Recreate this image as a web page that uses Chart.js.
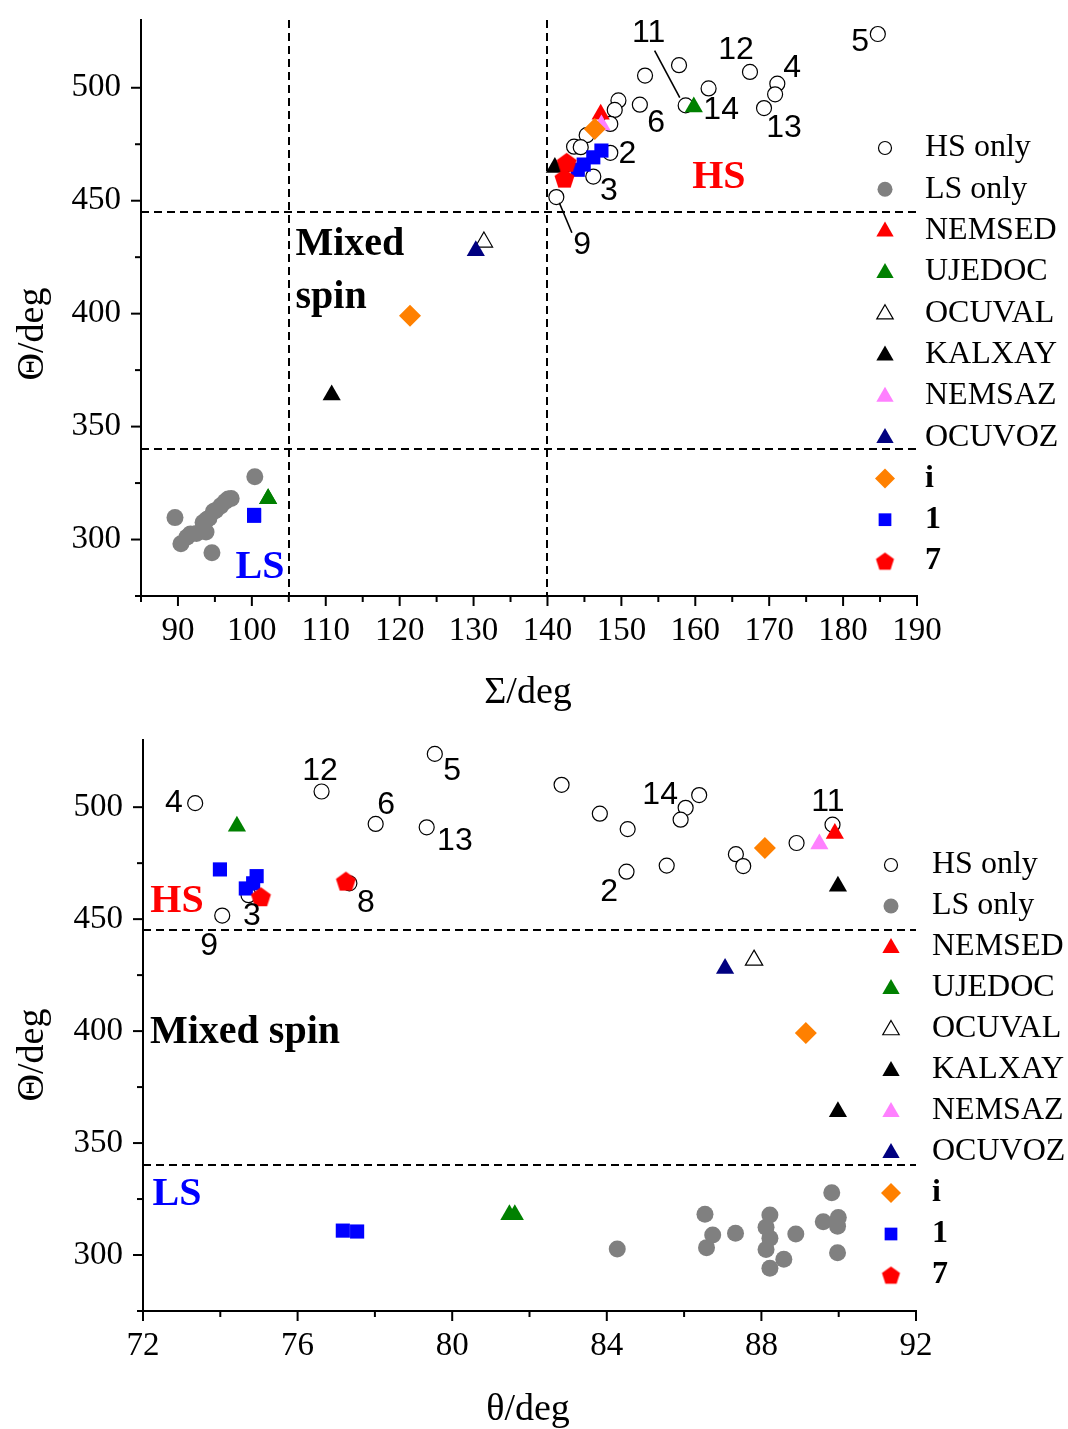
<!DOCTYPE html>
<html><head><meta charset="utf-8">
<script src="https://cdn.jsdelivr.net/npm/chart.js@4.4.1/dist/chart.umd.min.js"></script>
<style>body{margin:0;background:#fff}canvas{display:block}</style>
</head><body>
<canvas id="topChart" width="1068" height="715"></canvas>
<canvas id="bottomChart" width="1068" height="714"></canvas>
<script>
// ---------------- DATA ----------------
// Σ (deg), θ (deg), Θ (deg) for each series
const seriesNames = ['HS only','LS only','NEMSED','UJEDOC','OCUVAL','KALXAY','NEMSAZ','OCUVOZ','i','1','7'];

const hsSigma    = [184.7,157.8,167.4,153.2,171.1,161.8,170.8,149.6,152.5,158.7,169.3,149.1,148.5,145.3,143.6,144.5,148.5,142.5,146.2,141.2];
const hsTheta    = [79.55,82.83,76.62,86.39,73.35,86.04,83.82,85.91,78.02,89.84,79.34,84.54,88.91,87.34,85.55,87.53,84.51,77.34,74.73,74.05];
const hsBigTheta = [523.8,510.0,507.0,505.4,501.8,499.7,497.1,494.4,492.5,492.2,491.0,490.2,484.0,479.0,473.9,473.7,471.2,466.0,460.7,451.6];

const lsSigma    = [92.5,97.2,93.9,93.8,89.6,96.8,94.8,93.4,91.7,90.4,94.6,94.2,100.4,95.8,96.4,95.1,91.2];
const lsTheta    = [84.27,86.54,86.74,86.58,87.33,88.22,88.12,88.22,88.12,88.58,88.22,88.89,89.82,89.60,89.99,89.97,89.97];
const lsBigTheta = [302.7,318.2,308.9,303.3,309.7,317.9,312.4,307.5,302.5,298.1,294.1,309.4,327.8,314.9,316.8,312.9,301.0];

const nemsedSigma = [147.2],  nemsedTheta = [89.9],  nemsedBigTheta = [488.3];
const ujedocSigma = [159.8,102.2,102.2], ujedocTheta = [74.43,81.48,81.62], ujedocBigTheta = [491.5,318.0,318.0];
const ocuvalSigma = [131.4],  ocuvalTheta = [87.81], ocuvalBigTheta = [431.7];
const kalxaySigma = [141.0,110.8], kalxayTheta = [89.98,89.98], kalxayBigTheta = [464.7,364.0];
const nemsazSigma = [147.3],  nemsazTheta = [89.5],  nemsazBigTheta = [483.5];
const ocuvozSigma = [130.3],  ocuvozTheta = [87.06], ocuvozBigTheta = [427.9];
const iSigma = [146.4,121.4], iTheta = [88.09,89.15], iBigTheta = [481.8,399.1];
const c1Sigma = [147.3,146.2,144.9,144.1,100.3,100.3];
const c1Theta = [73.99,74.94,74.85,74.66,77.17,77.54];
const c1BigTheta = [472.2,469.2,466.0,463.7,310.9,310.5];
const c7Sigma = [142.6,142.3], c7Theta = [77.25,75.05], c7BigTheta = [467.0,460.0];

const sigmaThresholds = [105, 140];
const bigThetaThresholds = [340, 445];

const sigmaTickLabels = [90,100,110,120,130,140,150,160,170,180,190];
const thetaTickLabels = [72,76,80,84,88,92];
const bigThetaTickLabels = [300,350,400,450,500];

// labels of individual compounds: [text, Σ, Θ] and [text, θ, Θ]
const topNumberLabels = [['11',153.7,524.3],['12',165.5,516.8],['4',173.1,508.8],['5',182.3,520.4],['14',163.5,490.3],
  ['6',154.7,484.5],['13',172.0,481.9],['2',150.8,470.8],['3',148.3,454.0],['9',144.7,430.5]];
const bottomNumberLabels = [['4',72.80,501.8],['12',76.58,516.1],['5',80.0,516.1],['6',78.29,500.9],['13',80.07,484.8],
  ['8',77.77,457.1],['3',74.82,451.3],['9',73.71,437.9],['2',84.06,462.1],['14',85.38,505.4],['11',89.72,502.2]];

// ---------------- STYLES ----------------
function makePentagon(r, color){
  const c = document.createElement('canvas');
  const s = Math.ceil(2*r+2); c.width = s; c.height = s;
  const g = c.getContext('2d'); g.fillStyle = color; g.beginPath();
  for (let k=0;k<5;k++){ const a = -Math.PI/2 + k*2*Math.PI/5; const px = s/2 + r*Math.cos(a), py = s/2 + 1 + r*Math.sin(a); k?g.lineTo(px,py):g.moveTo(px,py); }
  g.closePath(); g.fill(); return c;
}
const pentPlot = makePentagon(10.5, '#ff0000');
const pentLegend = makePentagon(9.5, '#ff0000');

const styles = {
  'HS only': {ps:'circle', r:7.5, lr:6.5, fill:'#ffffff', stroke:'#000000', bw:1.2},
  'LS only': {ps:'circle', r:8.5, lr:7.5, fill:'#808080', stroke:'#808080', bw:0},
  'NEMSED':  {ps:'triangle', r:10.5, lr:10, fill:'#ff0000', stroke:'#ff0000', bw:0},
  'UJEDOC':  {ps:'triangle', r:10.5, lr:10, fill:'#008000', stroke:'#008000', bw:0},
  'OCUVAL':  {ps:'triangle', r:10, lr:9.5, fill:'#ffffff', stroke:'#000000', bw:1.2},
  'KALXAY':  {ps:'triangle', r:10.5, lr:10, fill:'#000000', stroke:'#000000', bw:0},
  'NEMSAZ':  {ps:'triangle', r:10.5, lr:10, fill:'#ff80ff', stroke:'#ff80ff', bw:0},
  'OCUVOZ':  {ps:'triangle', r:10.5, lr:10, fill:'#000080', stroke:'#000080', bw:0},
  'i':       {ps:'rectRot', r:11, lr:10, fill:'#ff8000', stroke:'#ff8000', bw:0},
  '1':       {ps:'rect', r:10, lr:9, fill:'#0000ff', stroke:'#0000ff', bw:0},
  '7':       {ps:pentPlot, lps:pentLegend, r:10, lr:10, fill:'#ff0000', stroke:'#ff0000', bw:0}
};

const seriesData = {
  'HS only': [hsSigma, hsTheta, hsBigTheta],
  'LS only': [lsSigma, lsTheta, lsBigTheta],
  'NEMSED': [nemsedSigma, nemsedTheta, nemsedBigTheta],
  'UJEDOC': [ujedocSigma, ujedocTheta, ujedocBigTheta],
  'OCUVAL': [ocuvalSigma, ocuvalTheta, ocuvalBigTheta],
  'KALXAY': [kalxaySigma, kalxayTheta, kalxayBigTheta],
  'NEMSAZ': [nemsazSigma, nemsazTheta, nemsazBigTheta],
  'OCUVOZ': [ocuvozSigma, ocuvozTheta, ocuvozBigTheta],
  'i': [iSigma, iTheta, iBigTheta],
  '1': [c1Sigma, c1Theta, c1BigTheta],
  '7': [c7Sigma, c7Theta, c7BigTheta]
};

const SERIF = '"Liberation Serif", "Times New Roman", serif';
const SANS = '"Liberation Sans", Arial, sans-serif';

// ---------------- PLUGIN ----------------
const decor = {
  id: 'decor',
  beforeDatasetsDraw(chart, args, o) {
    const ctx = chart.ctx, xs = chart.scales.x, ys = chart.scales.y, a = chart.chartArea;
    ctx.save(); ctx.strokeStyle = '#000'; ctx.lineWidth = 2; ctx.setLineDash([8,5]);
    (o.vLines||[]).forEach(v => { const px = Math.round(xs.getPixelForValue(v)); ctx.beginPath(); ctx.moveTo(px, a.top); ctx.lineTo(px, a.bottom); ctx.stroke(); });
    (o.hLines||[]).forEach(v => { const py = Math.round(ys.getPixelForValue(v)); ctx.beginPath(); ctx.moveTo(a.left, py); ctx.lineTo(a.right, py); ctx.stroke(); });
    ctx.restore();
  },
  afterDraw(chart, args, o) {
    const ctx = chart.ctx, xs = chart.scales.x, ys = chart.scales.y, a = chart.chartArea;
    ctx.save();
    // tick marks
    ctx.strokeStyle = '#000'; ctx.lineWidth = 2; ctx.setLineDash([]);
    const isMult = (v, s) => Math.abs(v/s - Math.round(v/s)) < 1e-6;
    xs.ticks.forEach(t => { if (!isMult(t.value, o.xMinor)) return; const px = xs.getPixelForValue(t.value); const len = isMult(t.value, o.xMajor) ? 10 : 6;
      ctx.beginPath(); ctx.moveTo(px, a.bottom); ctx.lineTo(px, a.bottom + len); ctx.stroke(); });
    ys.ticks.forEach(t => { if (!isMult(t.value, o.yMinor)) return; const py = ys.getPixelForValue(t.value); const len = isMult(t.value, o.yMajor) ? 10 : 6;
      ctx.beginPath(); ctx.moveTo(a.left, py); ctx.lineTo(a.left - len, py); ctx.stroke(); });
    // leader lines
    ctx.lineWidth = 1.6;
    (o.leaders||[]).forEach(l => { ctx.beginPath(); ctx.moveTo(xs.getPixelForValue(l[0]), ys.getPixelForValue(l[1])); ctx.lineTo(xs.getPixelForValue(l[2]), ys.getPixelForValue(l[3])); ctx.stroke(); });
    // number labels
    ctx.fillStyle = '#000'; ctx.font = '32px ' + SANS; ctx.textAlign = 'center'; ctx.textBaseline = 'middle';
    (o.numbers||[]).forEach(n => ctx.fillText(n[0], xs.getPixelForValue(n[1]), ys.getPixelForValue(n[2])));
    // region labels
    ctx.font = 'bold 40px ' + SERIF;
    (o.regions||[]).forEach(r => { ctx.fillStyle = r.color; ctx.textAlign = r.align; ctx.fillText(r.text, xs.getPixelForValue(r.x), ys.getPixelForValue(r.y)); });
    // axis titles
    ctx.fillStyle = '#000'; ctx.font = '38px ' + SERIF; ctx.textAlign = 'center'; ctx.textBaseline = 'middle';
    ctx.fillText(o.xTitle, o.xTitlePos[0], o.xTitlePos[1]);
    ctx.save(); ctx.translate(o.yTitlePos[0], o.yTitlePos[1]); ctx.rotate(-Math.PI/2); ctx.fillText('\u0398/deg', 0, 0); ctx.restore();
    // legend
    ctx.textAlign = 'left';
    seriesNames.forEach((name, i) => {
      const st = styles[name]; const y = o.legendY + i * o.legendStep;
      ctx.fillStyle = st.fill; ctx.strokeStyle = st.stroke; ctx.lineWidth = st.bw || 0.01;
      Chart.helpers.drawPoint(ctx, {pointStyle: st.lps || st.ps, radius: st.lr, rotation: 0, borderWidth: st.bw}, o.legendX, y + (st.ps === 'triangle' ? 1 : 0));
      ctx.fillStyle = '#000';
      ctx.font = (i >= 8 ? 'bold ' : '') + '32px ' + SERIF;
      ctx.fillText(name, o.legendTextX, y);
    });
    ctx.restore();
  }
};

function buildDatasets(idx) {
  return seriesNames.map((name, k) => {
    const d = seriesData[name], st = styles[name];
    return {
      label: name,
      data: d[idx].map((xv, j) => ({x: xv, y: d[2][j]})),
      pointStyle: st.ps, pointRadius: st.r, pointHoverRadius: st.r,
      backgroundColor: st.fill, borderColor: st.stroke, borderWidth: st.bw,
      showLine: false, order: seriesNames.length - k
    };
  });
}

function zeroPad(s) { s.paddingTop = 0; s.paddingBottom = 0; s.paddingLeft = 0; s.paddingRight = 0; }

function makeChart(id, cfg) {
  return new Chart(document.getElementById(id), {
    type: 'scatter',
    data: { datasets: buildDatasets(cfg.idx) },
    plugins: [decor],
    options: {
      responsive: false, animation: false, devicePixelRatio: 1,
      layout: { padding: { left: 0, top: cfg.top, right: cfg.right, bottom: 0 } },
      plugins: { legend: { display: false }, tooltip: { enabled: false }, decor: cfg.decor },
      scales: {
        x: {
          type: 'linear', min: cfg.xMin, max: cfg.xMax,
          afterFit: s => { s.height = cfg.xAxisH; zeroPad(s); },
          ticks: { stepSize: cfg.xStep, autoSkip: false, maxRotation: 0, minRotation: 0, padding: 19, color: '#000',
            font: { family: SERIF, size: 33, lineHeight: 1 },
            callback: v => cfg.xLabels.includes(v) ? String(v) : '' },
          grid: { drawOnChartArea: false, drawTicks: false },
          border: { color: '#000', width: 2 }
        },
        y: {
          type: 'linear', min: 275, max: 530,
          afterFit: s => { s.width = cfg.yAxisW; zeroPad(s); },
          ticks: { stepSize: 25, autoSkip: false, padding: 20, color: '#000',
            font: { family: SERIF, size: 33, lineHeight: 1 },
            callback: v => bigThetaTickLabels.includes(v) ? String(v) : '' },
          grid: { drawOnChartArea: false, drawTicks: false },
          border: { color: '#000', width: 2 }
        }
      }
    }
  });
}

makeChart('topChart', {
  idx: 0, top: 20, right: 151, xAxisH: 119, yAxisW: 141,
  xMin: 85, xMax: 190, xStep: 5, xLabels: sigmaTickLabels,
  decor: {
    vLines: sigmaThresholds, hLines: bigThetaThresholds,
    xMinor: 5, xMajor: 10, yMinor: 25, yMajor: 50,
    leaders: [[154.5,516.4,157.9,495.6],[141.6,449.1,143.3,435.8]],
    numbers: topNumberLabels,
    regions: [
      {text:'HS', x:163.2, y:460.2, color:'#ff0000', align:'center'},
      {text:'Mixed', x:105.9, y:430.5, color:'#000', align:'left'},
      {text:'spin', x:105.9, y:407.1, color:'#000', align:'left'},
      {text:'LS', x:101.1, y:287.6, color:'#0000ff', align:'center'}
    ],
    xTitle: '\u03A3/deg', xTitlePos: [528, 693], yTitlePos: [33, 334],
    legendX: 885, legendTextX: 925, legendY: 148, legendStep: 41.3
  }
});

makeChart('bottomChart', {
  idx: 1, top: 25, right: 152, xAxisH: 118, yAxisW: 143,
  xMin: 72, xMax: 92, xStep: 2, xLabels: thetaTickLabels,
  decor: {
    vLines: [], hLines: bigThetaThresholds,
    xMinor: 2, xMajor: 4, yMinor: 25, yMajor: 50,
    leaders: [],
    numbers: bottomNumberLabels,
    regions: [
      {text:'HS', x:72.88, y:458.0, color:'#ff0000', align:'center'},
      {text:'Mixed spin', x:72.18, y:399.1, color:'#000', align:'left'},
      {text:'LS', x:72.88, y:326.8, color:'#0000ff', align:'center'}
    ],
    xTitle: '\u03B8/deg', xTitlePos: [528, 695], yTitlePos: [33, 340],
    legendX: 891, legendTextX: 932, legendY: 150, legendStep: 41
  }
});
</script>
</body></html>
